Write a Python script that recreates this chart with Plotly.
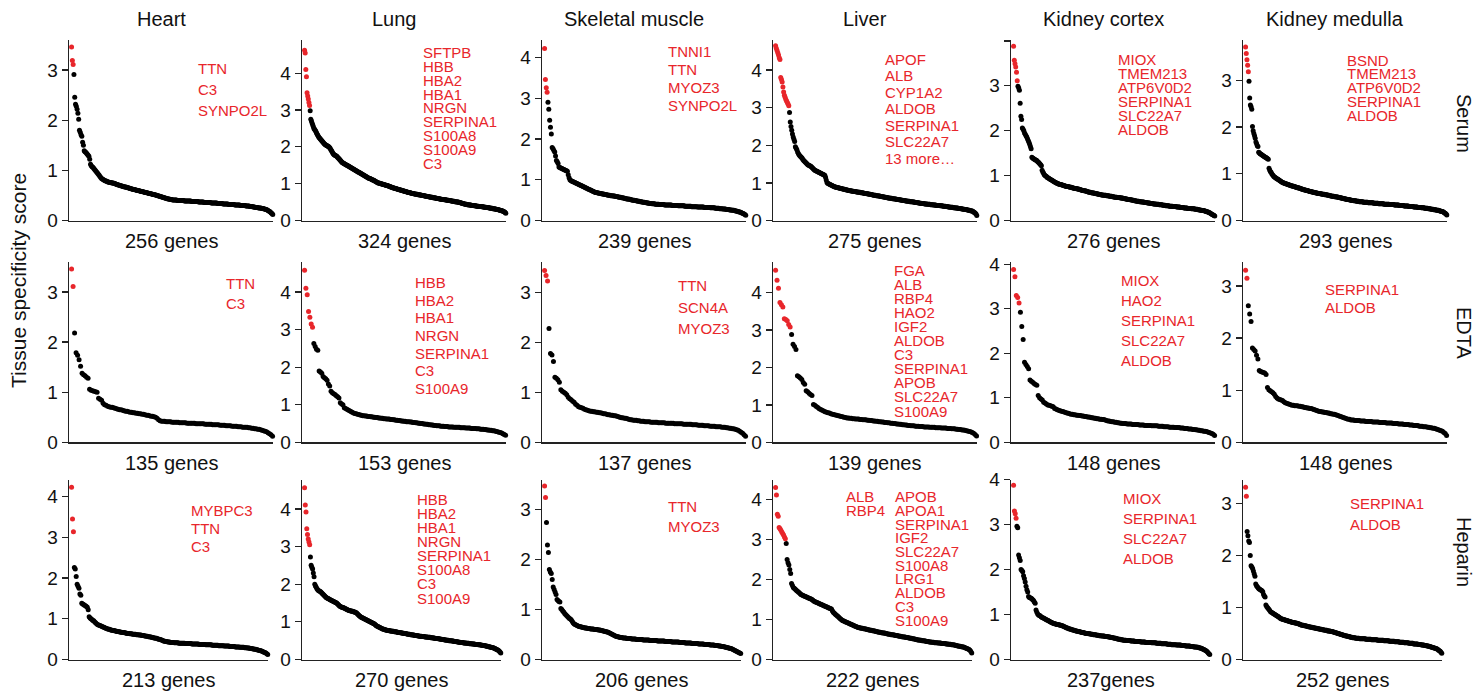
import plotly.graph_objects as go

W, H = 1478, 696

COLUMNS = ["Heart", "Lung", "Skeletal muscle", "Liver", "Kidney cortex", "Kidney medulla"]
ROWS = ["Serum", "EDTA", "Heparin"]
COUNT_TEXT = [
    ["256 genes", "324 genes", "239 genes", "275 genes", "276 genes", "293 genes"],
    ["135 genes", "153 genes", "137 genes", "139 genes", "148 genes", "148 genes"],
    ["213 genes", "270 genes", "206 genes", "222 genes", "237genes", "252 genes"],
]

# Tissue specificity scores (x100), genes ranked from highest to lowest
HEART_SERUM = [
    346, 319, 311, 291, 246, 232, 228, 222, 214, 202, 180, 176, 171, 168, 156, 150, 139, 137, 136, 134,
    132, 130, 128, 122, 112, 109, 107, 106, 104, 102, 100, 98, 96, 94, 92, 90, 88, 86, 84, 83,
    82, 81, 80, 79, 79, 78, 77, 77, 76, 76, 76, 75, 75, 75, 74, 74, 73, 72, 72, 71,
    71, 70, 70, 69, 69, 68, 68, 67, 67, 67, 66, 66, 65, 65, 64, 64, 63, 63, 62, 62,
    62, 61, 61, 60, 60, 60, 59, 59, 58, 58, 58, 57, 57, 56, 56, 56, 55, 55, 54, 54,
    54, 53, 53, 52, 52, 52, 51, 51, 50, 50, 49, 49, 48, 48, 47, 47, 46, 46, 45, 45,
    44, 44, 43, 43, 43, 42, 42, 42, 41, 41, 41, 41, 41, 41, 40, 40, 40, 40, 40, 40,
    40, 40, 40, 39, 39, 39, 39, 39, 39, 39, 39, 39, 38, 38, 38, 38, 38, 38, 38, 38,
    38, 37, 37, 37, 37, 37, 37, 37, 36, 36, 36, 36, 36, 36, 36, 36, 36, 35, 35, 35,
    35, 35, 35, 35, 35, 34, 34, 34, 34, 34, 34, 34, 33, 33, 33, 33, 33, 33, 33, 32,
    32, 32, 32, 32, 32, 32, 32, 31, 31, 31, 31, 31, 31, 31, 30, 30, 30, 30, 30, 30,
    30, 29, 29, 29, 29, 29, 28, 28, 28, 28, 27, 27, 27, 26, 26, 26, 26, 25, 25, 25,
    25, 24, 24, 24, 23, 23, 22, 22, 21, 20, 19, 18, 17, 15, 14, 12,
]
LUNG_SERUM = [
    462, 455, 410, 390, 347, 338, 330, 320, 312, 298, 275, 270, 265, 260, 255, 250, 248, 245, 242, 238,
    235, 232, 229, 226, 224, 222, 220, 218, 216, 214, 212, 210, 208, 206, 205, 204, 203, 202, 201, 200,
    198, 196, 193, 190, 187, 184, 181, 179, 178, 177, 176, 175, 174, 172, 170, 168, 166, 164, 162, 160,
    158, 157, 156, 155, 154, 153, 152, 151, 150, 149, 148, 147, 146, 145, 144, 143, 142, 141, 140, 139,
    138, 137, 136, 135, 134, 133, 132, 131, 130, 129, 128, 127, 126, 125, 124, 123, 122, 121, 120, 119,
    118, 117, 116, 115, 114, 114, 113, 112, 111, 110, 110, 109, 108, 107, 106, 105, 104, 103, 102, 102,
    101, 101, 100, 100, 99, 99, 98, 98, 97, 97, 96, 96, 95, 95, 94, 93, 93, 92, 91, 91,
    90, 89, 89, 88, 88, 87, 87, 86, 86, 85, 85, 84, 84, 83, 83, 82, 82, 81, 81, 80,
    80, 79, 79, 78, 78, 77, 77, 76, 76, 75, 75, 74, 74, 73, 73, 73, 72, 72, 72, 71,
    71, 71, 70, 70, 70, 69, 69, 69, 68, 68, 68, 67, 67, 67, 66, 66, 66, 65, 65, 65,
    64, 64, 64, 63, 63, 63, 62, 62, 62, 61, 61, 61, 60, 60, 60, 59, 59, 59, 58, 58,
    58, 57, 57, 57, 56, 56, 56, 56, 55, 55, 55, 55, 54, 54, 54, 53, 53, 53, 52, 52,
    52, 51, 51, 51, 50, 50, 50, 50, 49, 49, 48, 48, 47, 47, 46, 46, 45, 45, 44, 44,
    44, 43, 43, 43, 42, 42, 42, 42, 41, 41, 41, 41, 40, 40, 40, 40, 39, 39, 39, 39,
    38, 38, 38, 38, 37, 37, 37, 37, 36, 36, 36, 36, 35, 35, 35, 35, 34, 34, 34, 33,
    33, 33, 32, 32, 32, 31, 31, 31, 30, 30, 30, 29, 29, 28, 28, 27, 27, 26, 26, 25,
    24, 23, 22, 20,
]
SKELETAL_SERUM = [
    422, 346, 326, 315, 290, 273, 246, 229, 212, 179, 176, 172, 168, 158, 147, 144, 140, 131, 130, 129,
    128, 127, 126, 125, 124, 123, 122, 121, 112, 105, 100, 98, 97, 96, 95, 94, 93, 92, 91, 90,
    89, 88, 87, 86, 85, 84, 83, 82, 81, 80, 79, 78, 77, 76, 75, 74, 73, 72, 71, 70,
    69, 69, 68, 68, 67, 67, 66, 66, 65, 65, 65, 64, 64, 63, 63, 62, 62, 62, 61, 61,
    61, 60, 60, 60, 59, 59, 58, 58, 57, 57, 57, 56, 56, 55, 55, 54, 54, 53, 53, 53,
    52, 52, 51, 51, 50, 50, 50, 49, 49, 48, 48, 47, 47, 46, 46, 46, 45, 45, 45, 44,
    44, 43, 43, 43, 42, 42, 42, 41, 41, 41, 41, 40, 40, 40, 40, 40, 39, 39, 39, 39,
    39, 39, 38, 38, 38, 38, 38, 38, 38, 38, 38, 37, 37, 37, 37, 37, 37, 37, 36, 36,
    36, 36, 36, 36, 36, 36, 35, 35, 35, 35, 35, 35, 35, 35, 34, 34, 34, 34, 34, 34,
    34, 33, 33, 33, 33, 33, 33, 33, 33, 32, 32, 32, 32, 32, 32, 32, 31, 31, 31, 31,
    31, 31, 30, 30, 30, 30, 30, 29, 29, 29, 29, 28, 28, 28, 28, 27, 27, 27, 27, 26,
    26, 26, 25, 25, 25, 24, 24, 23, 23, 22, 21, 21, 20, 19, 18, 17, 16, 15, 13,
]
LIVER_SERUM = [
    465, 458, 452, 446, 440, 433, 428, 380, 375, 368, 355, 342, 333, 328, 322, 318, 314, 310, 305, 287,
    262, 250, 240, 230, 222, 216, 210, 196, 192, 188, 182, 178, 175, 172, 170, 168, 166, 163, 160, 158,
    156, 154, 152, 150, 148, 147, 146, 145, 144, 142, 140, 138, 136, 134, 133, 132, 131, 130, 129, 128,
    127, 126, 125, 124, 123, 122, 121, 120, 115, 108, 101, 99, 98, 97, 96, 95, 94, 93, 92, 91,
    90, 89, 89, 88, 88, 87, 87, 86, 86, 85, 85, 84, 84, 83, 83, 82, 82, 81, 81, 80,
    80, 79, 79, 79, 78, 78, 78, 77, 77, 77, 76, 76, 76, 75, 75, 75, 74, 74, 74, 73,
    73, 72, 72, 72, 71, 71, 71, 70, 70, 70, 69, 69, 68, 68, 67, 67, 67, 66, 66, 66,
    65, 65, 65, 64, 64, 63, 63, 63, 62, 62, 62, 61, 61, 60, 60, 60, 59, 59, 59, 58,
    58, 58, 57, 57, 57, 56, 56, 56, 55, 55, 55, 54, 54, 54, 53, 53, 53, 52, 52, 52,
    51, 51, 51, 50, 50, 50, 50, 49, 49, 49, 48, 48, 48, 47, 47, 47, 46, 46, 46, 45,
    45, 45, 45, 44, 44, 44, 44, 43, 43, 43, 43, 42, 42, 42, 42, 41, 41, 41, 41, 40,
    40, 40, 40, 40, 39, 39, 39, 39, 38, 38, 38, 38, 37, 37, 37, 36, 36, 36, 35, 35,
    35, 35, 34, 34, 34, 33, 33, 33, 33, 32, 32, 32, 31, 31, 31, 30, 30, 30, 29, 29,
    29, 28, 28, 27, 27, 26, 26, 25, 25, 24, 22, 21, 19, 17, 13,
]
KIDNEY_CORTEX_SERUM = [
    388, 357, 349, 342, 330, 311, 299, 295, 290, 261, 232, 225, 206, 203, 200, 195, 192, 189, 186, 182,
    178, 174, 170, 165, 160, 141, 139, 138, 137, 136, 135, 134, 133, 131, 130, 128, 126, 124, 122, 112,
    108, 105, 102, 100, 99, 98, 96, 95, 94, 93, 92, 91, 90, 89, 88, 87, 86, 85, 84, 83,
    83, 82, 81, 81, 80, 80, 79, 79, 78, 78, 77, 77, 76, 76, 76, 75, 75, 74, 74, 74,
    73, 73, 72, 72, 71, 71, 71, 70, 70, 70, 69, 69, 68, 68, 67, 67, 66, 66, 66, 65,
    65, 64, 64, 63, 63, 63, 62, 62, 61, 61, 61, 60, 60, 60, 59, 59, 59, 58, 58, 58,
    57, 57, 57, 56, 56, 56, 56, 55, 55, 55, 55, 54, 54, 54, 54, 53, 53, 53, 52, 52,
    52, 52, 51, 51, 51, 51, 50, 50, 50, 50, 49, 49, 49, 48, 48, 48, 47, 47, 47, 46,
    46, 46, 45, 45, 45, 44, 44, 44, 43, 43, 43, 43, 42, 42, 42, 41, 41, 41, 41, 40,
    40, 40, 40, 39, 39, 39, 39, 38, 38, 38, 38, 37, 37, 37, 37, 36, 36, 36, 36, 35,
    35, 35, 35, 35, 34, 34, 34, 34, 33, 33, 33, 33, 33, 32, 32, 32, 32, 32, 31, 31,
    31, 31, 31, 30, 30, 30, 30, 30, 29, 29, 29, 29, 29, 28, 28, 28, 28, 28, 27, 27,
    27, 27, 27, 26, 26, 26, 26, 26, 25, 25, 25, 25, 24, 24, 24, 23, 23, 23, 22, 22,
    22, 21, 21, 20, 20, 19, 19, 18, 17, 16, 15, 14, 13, 12, 11, 10,
]
KIDNEY_MEDULLA_SERUM = [
    371, 357, 344, 332, 318, 298, 262, 247, 243, 238, 201, 192, 186, 181, 176, 168, 164, 160, 158, 146,
    145, 143, 142, 141, 140, 139, 138, 137, 136, 135, 134, 133, 132, 131, 112, 108, 105, 103, 100, 98,
    96, 94, 93, 92, 91, 90, 89, 88, 87, 86, 85, 84, 83, 82, 81, 80, 80, 79, 79, 78,
    78, 77, 77, 76, 76, 75, 75, 74, 74, 73, 73, 72, 72, 71, 71, 70, 70, 70, 69, 69,
    68, 68, 67, 67, 66, 66, 65, 65, 64, 64, 64, 63, 63, 62, 62, 62, 61, 61, 61, 60,
    60, 60, 59, 59, 59, 58, 58, 58, 57, 57, 57, 56, 56, 56, 56, 55, 55, 55, 55, 54,
    54, 54, 53, 53, 53, 52, 52, 52, 52, 51, 51, 51, 50, 50, 50, 49, 49, 49, 48, 48,
    48, 47, 47, 47, 46, 46, 46, 45, 45, 45, 45, 44, 44, 44, 43, 43, 43, 42, 42, 42,
    42, 41, 41, 41, 41, 40, 40, 40, 40, 40, 40, 39, 39, 39, 39, 39, 39, 39, 38, 38,
    38, 38, 38, 38, 38, 38, 37, 37, 37, 37, 37, 37, 37, 36, 36, 36, 36, 36, 36, 36,
    36, 35, 35, 35, 35, 35, 35, 35, 35, 34, 34, 34, 34, 34, 34, 34, 33, 33, 33, 33,
    33, 33, 33, 32, 32, 32, 32, 32, 32, 32, 31, 31, 31, 31, 31, 31, 31, 30, 30, 30,
    30, 30, 30, 30, 29, 29, 29, 29, 29, 29, 28, 28, 28, 28, 28, 27, 27, 27, 27, 27,
    26, 26, 26, 26, 26, 25, 25, 25, 25, 24, 24, 24, 24, 23, 23, 23, 23, 22, 22, 22,
    22, 21, 21, 20, 20, 19, 19, 18, 17, 16, 15, 14, 12,
]
HEART_EDTA = [
    346, 311, 218, 179, 174, 165, 152, 138, 135, 133, 130, 128, 106, 104, 103, 102, 101, 100, 88, 86,
    84, 78, 75, 74, 72, 71, 70, 70, 69, 68, 67, 66, 65, 65, 64, 63, 62, 62, 61, 60,
    60, 59, 59, 58, 58, 57, 57, 56, 56, 55, 54, 54, 53, 52, 52, 51, 50, 48, 45, 43,
    42, 42, 42, 41, 41, 41, 41, 40, 40, 40, 40, 40, 39, 39, 39, 39, 39, 38, 38, 38,
    38, 38, 38, 37, 37, 37, 37, 37, 37, 36, 36, 36, 36, 36, 35, 35, 35, 35, 35, 34,
    34, 34, 34, 33, 33, 33, 33, 32, 32, 32, 32, 31, 31, 31, 30, 30, 30, 30, 29, 29,
    28, 28, 27, 27, 26, 26, 25, 24, 23, 22, 21, 19, 17, 15, 12,
]
LUNG_EDTA = [
    458, 410, 393, 348, 333, 315, 306, 263, 255, 248, 245, 190, 187, 184, 175, 172, 169, 165, 155, 150,
    136, 132, 129, 127, 124, 121, 118, 105, 102, 100, 92, 90, 88, 86, 84, 82, 80, 78, 77, 76,
    75, 74, 73, 72, 71, 71, 70, 70, 69, 69, 68, 68, 67, 67, 66, 66, 65, 65, 64, 64,
    63, 63, 62, 62, 62, 61, 61, 60, 60, 59, 59, 58, 58, 57, 57, 56, 56, 55, 55, 55,
    54, 54, 53, 53, 52, 52, 51, 51, 50, 50, 49, 49, 48, 48, 47, 47, 46, 46, 45, 45,
    44, 44, 44, 43, 43, 43, 42, 42, 42, 41, 41, 41, 41, 40, 40, 40, 40, 40, 39, 39,
    39, 39, 38, 38, 38, 38, 37, 37, 37, 37, 36, 36, 36, 35, 35, 35, 34, 34, 33, 33,
    32, 32, 31, 31, 30, 29, 28, 27, 26, 25, 23, 21, 19,
]
SKELETAL_EDTA = [
    344, 334, 323, 228, 178, 175, 162, 130, 128, 125, 120, 105, 102, 100, 98, 95, 90, 87, 85, 82,
    80, 76, 74, 71, 70, 69, 68, 66, 65, 64, 63, 62, 62, 61, 61, 60, 60, 59, 59, 58,
    57, 57, 56, 55, 55, 54, 54, 53, 53, 52, 51, 50, 49, 49, 48, 48, 47, 46, 45, 45,
    44, 44, 44, 43, 43, 42, 42, 42, 41, 41, 41, 41, 40, 40, 40, 40, 40, 39, 39, 39,
    39, 39, 38, 38, 38, 38, 38, 38, 37, 37, 37, 37, 37, 37, 36, 36, 36, 36, 36, 36,
    35, 35, 35, 35, 34, 34, 34, 34, 33, 33, 33, 33, 32, 32, 32, 32, 31, 31, 31, 31,
    30, 30, 30, 29, 29, 28, 28, 27, 27, 26, 25, 24, 22, 20, 18, 15, 12,
]
LIVER_EDTA = [
    460, 433, 412, 374, 368, 362, 330, 328, 325, 315, 308, 288, 262, 256, 248, 178, 175, 172, 168, 160,
    155, 138, 135, 131, 128, 125, 101, 99, 96, 93, 90, 88, 86, 84, 82, 80, 79, 78, 76, 75,
    74, 73, 72, 71, 70, 69, 68, 67, 66, 65, 65, 64, 64, 63, 63, 62, 62, 62, 61, 61,
    60, 60, 60, 59, 59, 58, 58, 57, 57, 56, 56, 55, 55, 54, 54, 53, 53, 52, 52, 51,
    51, 50, 50, 49, 49, 48, 48, 47, 47, 46, 46, 45, 45, 44, 44, 44, 43, 43, 43, 42,
    42, 42, 41, 41, 41, 41, 40, 40, 40, 40, 39, 39, 39, 39, 38, 38, 38, 38, 37, 37,
    37, 36, 36, 36, 35, 35, 34, 34, 33, 33, 32, 31, 30, 29, 28, 26, 24, 21, 17,
]
KIDNEY_CORTEX_EDTA = [
    388, 372, 330, 325, 313, 292, 260, 231, 180, 175, 170, 165, 140, 137, 135, 132, 130, 128, 105, 100,
    97, 95, 90, 88, 86, 84, 83, 82, 81, 80, 76, 75, 73, 72, 71, 70, 69, 68, 67, 66,
    65, 64, 63, 63, 62, 62, 61, 61, 60, 60, 59, 59, 58, 58, 57, 57, 56, 55, 55, 54,
    54, 53, 53, 52, 52, 51, 51, 50, 49, 48, 48, 47, 46, 46, 45, 45, 44, 44, 43, 43,
    42, 42, 42, 41, 41, 41, 41, 40, 40, 40, 40, 40, 39, 39, 39, 39, 38, 38, 38, 38,
    38, 37, 37, 37, 37, 37, 36, 36, 36, 36, 35, 35, 35, 35, 34, 34, 34, 34, 33, 33,
    33, 33, 32, 32, 32, 31, 31, 31, 30, 30, 30, 29, 29, 28, 28, 27, 27, 26, 26, 25,
    25, 24, 23, 22, 21, 20, 18, 15,
]
KIDNEY_MEDULLA_EDTA = [
    330, 315, 262, 246, 232, 181, 178, 175, 167, 160, 138, 136, 135, 134, 133, 130, 105, 101, 99, 97,
    95, 92, 88, 85, 83, 82, 81, 80, 78, 76, 75, 74, 73, 72, 71, 71, 70, 70, 70, 69,
    69, 68, 68, 67, 67, 66, 66, 65, 65, 64, 63, 62, 61, 60, 59, 59, 58, 58, 57, 57,
    56, 56, 55, 55, 54, 54, 53, 52, 51, 50, 49, 48, 47, 46, 45, 44, 44, 43, 43, 43,
    42, 42, 42, 42, 41, 41, 41, 41, 40, 40, 40, 40, 40, 39, 39, 39, 39, 39, 38, 38,
    38, 38, 38, 37, 37, 37, 37, 37, 36, 36, 36, 36, 35, 35, 35, 35, 34, 34, 34, 34,
    33, 33, 33, 32, 32, 32, 32, 31, 31, 31, 30, 30, 30, 29, 29, 28, 28, 27, 27, 26,
    25, 24, 23, 22, 21, 19, 17, 13,
]
HEART_HEPARIN = [
    423, 345, 314, 226, 222, 204, 185, 180, 175, 161, 158, 138, 136, 135, 133, 132, 130, 128, 122, 105,
    102, 100, 98, 96, 95, 92, 90, 88, 86, 85, 84, 83, 82, 81, 80, 79, 78, 77, 76, 75,
    74, 74, 73, 72, 72, 71, 71, 70, 70, 69, 69, 68, 68, 67, 67, 66, 66, 66, 65, 65,
    64, 64, 64, 63, 63, 63, 62, 62, 62, 62, 61, 61, 61, 60, 60, 60, 59, 59, 59, 58,
    58, 57, 57, 56, 56, 55, 55, 54, 54, 53, 53, 52, 52, 51, 50, 50, 49, 48, 47, 46,
    45, 45, 44, 44, 43, 43, 43, 42, 42, 42, 42, 41, 41, 41, 41, 41, 40, 40, 40, 40,
    40, 40, 40, 39, 39, 39, 39, 39, 39, 39, 38, 38, 38, 38, 38, 38, 38, 38, 37, 37,
    37, 37, 37, 37, 37, 36, 36, 36, 36, 36, 36, 36, 35, 35, 35, 35, 35, 35, 35, 34,
    34, 34, 34, 34, 34, 33, 33, 33, 33, 33, 33, 32, 32, 32, 32, 32, 32, 31, 31, 31,
    31, 31, 30, 30, 30, 30, 30, 29, 29, 29, 28, 28, 28, 27, 27, 27, 26, 26, 25, 25,
    24, 24, 23, 22, 22, 21, 20, 19, 18, 17, 16, 14, 12,
]
LUNG_HEPARIN = [
    456, 410, 392, 347, 332, 320, 312, 305, 272, 250, 245, 240, 230, 220, 200, 195, 192, 188, 185, 183,
    182, 181, 180, 178, 176, 174, 172, 170, 168, 166, 164, 163, 162, 161, 160, 159, 158, 157, 156, 155,
    154, 153, 152, 151, 150, 148, 146, 144, 142, 141, 140, 139, 138, 138, 137, 136, 135, 134, 133, 132,
    131, 130, 130, 129, 129, 128, 128, 127, 126, 126, 125, 124, 122, 120, 118, 116, 115, 113, 112, 111,
    110, 109, 108, 107, 106, 105, 104, 103, 102, 101, 100, 99, 98, 97, 96, 95, 94, 92, 90, 89,
    88, 87, 86, 85, 84, 83, 82, 81, 80, 80, 79, 79, 78, 78, 77, 77, 77, 76, 76, 76,
    75, 75, 75, 74, 74, 74, 73, 73, 72, 72, 72, 71, 71, 71, 70, 70, 70, 69, 69, 69,
    68, 68, 67, 67, 67, 66, 66, 66, 65, 65, 65, 64, 64, 64, 63, 63, 63, 62, 62, 62,
    62, 61, 61, 61, 61, 60, 60, 60, 60, 59, 59, 59, 59, 58, 58, 58, 57, 57, 57, 56,
    56, 56, 56, 55, 55, 55, 54, 54, 54, 53, 53, 53, 52, 52, 52, 51, 51, 51, 50, 50,
    50, 50, 49, 49, 49, 48, 48, 48, 47, 47, 47, 46, 46, 46, 45, 45, 45, 45, 44, 44,
    44, 44, 43, 43, 43, 43, 42, 42, 42, 42, 41, 41, 41, 41, 40, 40, 40, 40, 39, 39,
    39, 39, 38, 38, 38, 37, 37, 37, 36, 36, 35, 35, 34, 34, 33, 33, 32, 32, 31, 31,
    30, 29, 28, 27, 26, 25, 24, 22, 20, 17,
]
SKELETAL_HEPARIN = [
    347, 324, 274, 229, 214, 180, 175, 172, 160, 145, 140, 135, 130, 120, 118, 116, 115, 102, 100, 97,
    95, 92, 90, 88, 86, 84, 82, 81, 79, 76, 73, 71, 70, 69, 68, 67, 66, 66, 65, 65,
    64, 64, 63, 63, 63, 62, 62, 62, 61, 61, 61, 61, 60, 60, 60, 60, 59, 59, 59, 58,
    58, 57, 57, 56, 56, 55, 55, 54, 53, 52, 51, 50, 49, 48, 47, 46, 46, 45, 45, 44,
    44, 44, 43, 43, 43, 43, 42, 42, 42, 42, 42, 41, 41, 41, 41, 41, 40, 40, 40, 40,
    40, 40, 40, 39, 39, 39, 39, 39, 39, 39, 38, 38, 38, 38, 38, 38, 38, 38, 37, 37,
    37, 37, 37, 37, 37, 37, 36, 36, 36, 36, 36, 36, 36, 35, 35, 35, 35, 35, 35, 35,
    35, 34, 34, 34, 34, 34, 34, 33, 33, 33, 33, 33, 33, 33, 32, 32, 32, 32, 32, 32,
    32, 31, 31, 31, 31, 31, 31, 30, 30, 30, 30, 30, 30, 29, 29, 29, 29, 29, 28, 28,
    28, 28, 27, 27, 27, 26, 26, 26, 25, 25, 24, 24, 23, 23, 22, 22, 21, 20, 19, 18,
    17, 16, 15, 14, 13, 12,
]
LIVER_HEPARIN = [
    430, 411, 363, 358, 330, 327, 323, 319, 315, 311, 306, 302, 290, 250, 242, 236, 225, 215, 190, 185,
    180, 178, 176, 174, 172, 170, 168, 166, 164, 162, 161, 160, 159, 158, 157, 156, 155, 154, 153, 152,
    151, 150, 148, 146, 145, 144, 143, 142, 141, 140, 139, 138, 137, 136, 135, 134, 133, 132, 131, 130,
    129, 128, 127, 126, 122, 118, 116, 114, 112, 110, 108, 106, 104, 102, 100, 98, 97, 96, 95, 94,
    93, 92, 91, 90, 89, 88, 87, 86, 85, 84, 83, 82, 81, 80, 80, 79, 79, 78, 78, 77,
    77, 76, 76, 75, 75, 74, 74, 73, 73, 72, 72, 71, 71, 70, 70, 69, 69, 68, 68, 67,
    67, 66, 66, 66, 65, 65, 64, 64, 63, 63, 62, 62, 62, 61, 61, 60, 60, 60, 59, 59,
    58, 58, 57, 57, 56, 56, 56, 55, 55, 55, 54, 54, 53, 53, 52, 52, 51, 51, 50, 50,
    49, 49, 49, 48, 48, 47, 47, 47, 46, 46, 45, 45, 45, 44, 44, 44, 43, 43, 43, 42,
    42, 42, 42, 41, 41, 41, 41, 40, 40, 40, 40, 40, 39, 39, 39, 38, 38, 38, 37, 37,
    37, 36, 36, 35, 35, 34, 34, 33, 33, 32, 32, 31, 31, 30, 29, 28, 27, 26, 25, 23,
    20, 16,
]
KIDNEY_CORTEX_HEPARIN = [
    387, 330, 324, 314, 296, 293, 232, 226, 220, 200, 198, 195, 186, 180, 172, 163, 155, 150, 140, 138,
    137, 136, 135, 133, 131, 128, 125, 110, 105, 101, 99, 98, 97, 95, 94, 93, 92, 91, 90, 89,
    88, 87, 86, 85, 84, 83, 82, 81, 80, 80, 79, 79, 78, 78, 77, 77, 76, 76, 75, 75,
    74, 73, 72, 71, 70, 70, 69, 68, 68, 67, 66, 66, 65, 65, 64, 64, 63, 63, 62, 62,
    61, 61, 60, 60, 60, 59, 59, 58, 58, 58, 57, 57, 57, 56, 56, 56, 55, 55, 55, 55,
    54, 54, 54, 53, 53, 53, 52, 52, 52, 52, 51, 51, 51, 51, 50, 50, 50, 49, 49, 49,
    48, 48, 47, 47, 46, 46, 45, 45, 45, 44, 44, 44, 43, 43, 43, 43, 42, 42, 42, 42,
    42, 41, 41, 41, 41, 41, 40, 40, 40, 40, 40, 40, 40, 39, 39, 39, 39, 39, 39, 38,
    38, 38, 38, 38, 38, 38, 37, 37, 37, 37, 37, 37, 36, 36, 36, 36, 36, 36, 35, 35,
    35, 35, 35, 35, 35, 34, 34, 34, 34, 34, 33, 33, 33, 33, 33, 33, 32, 32, 32, 32,
    32, 32, 31, 31, 31, 31, 31, 30, 30, 30, 30, 30, 30, 29, 29, 29, 29, 28, 28, 28,
    28, 27, 27, 26, 26, 25, 25, 24, 23, 22, 21, 20, 19, 17, 15, 13, 11,
]
KIDNEY_MEDULLA_HEPARIN = [
    331, 314, 246, 238, 228, 225, 200, 180, 178, 175, 170, 165, 160, 145, 142, 140, 138, 136, 135, 134,
    133, 132, 130, 125, 122, 120, 105, 102, 100, 98, 96, 94, 92, 91, 90, 89, 88, 87, 86, 85,
    84, 83, 82, 81, 80, 79, 78, 78, 77, 77, 76, 76, 75, 75, 74, 74, 73, 73, 72, 72,
    71, 71, 71, 70, 70, 70, 69, 69, 68, 68, 67, 67, 66, 66, 66, 65, 65, 65, 64, 64,
    63, 63, 63, 62, 62, 62, 61, 61, 61, 60, 60, 60, 59, 59, 59, 58, 58, 58, 57, 57,
    57, 56, 56, 56, 56, 55, 55, 55, 55, 54, 54, 54, 53, 53, 52, 52, 51, 51, 50, 50,
    49, 49, 48, 48, 47, 47, 46, 46, 45, 45, 45, 44, 44, 44, 43, 43, 43, 42, 42, 42,
    42, 41, 41, 41, 41, 41, 40, 40, 40, 40, 40, 40, 40, 40, 39, 39, 39, 39, 39, 39,
    39, 38, 38, 38, 38, 38, 38, 38, 38, 37, 37, 37, 37, 37, 37, 37, 37, 36, 36, 36,
    36, 36, 36, 36, 35, 35, 35, 35, 35, 35, 35, 34, 34, 34, 34, 34, 34, 33, 33, 33,
    33, 33, 33, 32, 32, 32, 32, 32, 32, 31, 31, 31, 31, 31, 31, 30, 30, 30, 30, 30,
    30, 29, 29, 29, 29, 28, 28, 28, 28, 27, 27, 27, 26, 26, 26, 25, 25, 24, 24, 23,
    23, 22, 22, 21, 21, 20, 19, 18, 17, 16, 14, 12,
]

SCORES = [
    [HEART_SERUM, LUNG_SERUM, SKELETAL_SERUM, LIVER_SERUM, KIDNEY_CORTEX_SERUM, KIDNEY_MEDULLA_SERUM],
    [HEART_EDTA, LUNG_EDTA, SKELETAL_EDTA, LIVER_EDTA, KIDNEY_CORTEX_EDTA, KIDNEY_MEDULLA_EDTA],
    [HEART_HEPARIN, LUNG_HEPARIN, SKELETAL_HEPARIN, LIVER_HEPARIN, KIDNEY_CORTEX_HEPARIN, KIDNEY_MEDULLA_HEPARIN],
]

# number of top-ranked (highlighted) genes per panel
N_HIGHLIGHT = [
    [3, 9, 4, 19, 6, 5],
    [2, 7, 3, 11, 5, 2],
    [3, 8, 2, 12, 4, 2],
]

GENES = [
    [["TTN", "C3", "SYNPO2L"],
     ["SFTPB", "HBB", "HBA2", "HBA1", "NRGN", "SERPINA1", "S100A8", "S100A9", "C3"],
     ["TNNI1", "TTN", "MYOZ3", "SYNPO2L"],
     ["APOF", "ALB", "CYP1A2", "ALDOB", "SERPINA1", "SLC22A7", "13 more…"],
     ["MIOX", "TMEM213", "ATP6V0D2", "SERPINA1", "SLC22A7", "ALDOB"],
     ["BSND", "TMEM213", "ATP6V0D2", "SERPINA1", "ALDOB"]],
    [["TTN", "C3"],
     ["HBB", "HBA2", "HBA1", "NRGN", "SERPINA1", "C3", "S100A9"],
     ["TTN", "SCN4A", "MYOZ3"],
     ["FGA", "ALB", "RBP4", "HAO2", "IGF2", "ALDOB", "C3", "SERPINA1", "APOB", "SLC22A7", "S100A9"],
     ["MIOX", "HAO2", "SERPINA1", "SLC22A7", "ALDOB"],
     ["SERPINA1", "ALDOB"]],
    [["MYBPC3", "TTN", "C3"],
     ["HBB", "HBA2", "HBA1", "NRGN", "SERPINA1", "S100A8", "C3", "S100A9"],
     ["TTN", "MYOZ3"],
     ["APOB", "APOA1", "SERPINA1", "IGF2", "SLC22A7", "S100A8", "LRG1", "ALDOB", "C3", "S100A9"],
     ["MIOX", "SERPINA1", "SLC22A7", "ALDOB"],
     ["SERPINA1", "ALDOB"]],
]
LIVER_HEPARIN_EXTRA = ["ALB", "RBP4"]

# ---------------- layout (pixels) ----------------
COL_LEFT = [69, 302, 542, 773, 1011, 1243]
PANEL_W = [204, 204, 199]
ROW_TOP = [40, 262, 479.5]
ROW_BOTTOM = [220.5, 442.3, 659.5]
Y_TOP = [
    [3.6, 4.9, 4.43, 4.8, 4.02, 3.86],
    [3.6, 4.8, 3.61, 4.82, 4.05, 3.46],
    [4.42, 4.78, 3.6, 4.5, 4.0, 3.46],
]
HIDE_TOP_LABEL = {(0, 4)}
# gene label block: left x, first line centre y, line step (px)
LABEL_POS = [
    [(196, 68.3, 21), (420.7, 52.7, 13.8), (666, 51.7, 17.8), (883.3, 59.3, 16.5), (1115.7, 59.3, 14.1), (1345, 60, 13.8)],
    [(224, 283.3, 20), (413.3, 282.7, 17.6), (676, 285, 22), (891.7, 270, 14.1), (1119.3, 280, 20.2), (1322.7, 289.3, 18)],
    [(188.7, 510.7, 17.7), (415, 499.3, 14.1), (666, 506, 20.7), (892.7, 496.7, 13.7), (1120.7, 498.3, 20), (1347.7, 503.3, 20.7)],
]
LIVER_HEPARIN_EXTRA_POS = (844, 496.7, 14)

RED = "#E8262B"
BLACK = "#000000"
AXIS = "#222222"
FONT = "Liberation Sans, Arial, Helvetica, sans-serif"

fig = go.Figure()
layout = {}
ann = []


def px(x):
    return x / W


def py(y):
    return 1 - y / H


for r in range(3):
    for c in range(6):
        k = r * 6 + c + 1
        sfx = "" if k == 1 else str(k)
        vals = [v / 100 for v in SCORES[r][c]]
        n = len(vals)
        ranks = list(range(1, n + 1))
        nh = N_HIGHLIGHT[r][c]
        fig.add_trace(go.Scatter(
            x=ranks[nh:], y=vals[nh:], mode="markers",
            marker=dict(color=BLACK, size=5, line=dict(width=0)),
            xaxis="x" + sfx, yaxis="y" + sfx, showlegend=False,
            hoverinfo="skip", cliponaxis=False))
        fig.add_trace(go.Scatter(
            x=ranks[:nh], y=vals[:nh], mode="markers",
            marker=dict(color=RED, size=5, line=dict(width=0)),
            xaxis="x" + sfx, yaxis="y" + sfx, showlegend=False,
            hoverinfo="skip", cliponaxis=False))

        left = COL_LEFT[c]
        right = left + PANEL_W[r]
        top, bottom = ROW_TOP[r], ROW_BOTTOM[r]
        ppr = (right - left) / n
        layout["xaxis" + sfx] = dict(
            domain=[px(left), px(right)], anchor="y" + sfx,
            range=[1 - 2.6 / ppr, n + 0.3], automargin=False,
            showline=True, linecolor=AXIS, linewidth=1.3,
            showticklabels=False, ticks="", showgrid=False, zeroline=False,
            fixedrange=True)
        ytop = Y_TOP[r][c]
        tv = [t for t in range(0, 5) if t <= ytop + 1e-9]
        tt = [str(t) for t in tv]
        if (r, c) in HIDE_TOP_LABEL:
            tt[-1] = ""
        layout["yaxis" + sfx] = dict(
            domain=[py(bottom), py(top)], anchor="x" + sfx, automargin=False,
            range=[0, ytop], tickvals=tv, ticktext=tt,
            ticks="outside", ticklen=6, tickwidth=1.3, tickcolor=AXIS,
            showline=True, linecolor=AXIS, linewidth=1.3,
            showgrid=False, zeroline=False, fixedrange=True,
            tickfont=dict(size=19, color="#111", family=FONT))

        # gene count label under panel
        ann.append(dict(x=px((left + right) / 2), y=py(bottom + 20.5), xref="paper", yref="paper",
                        text=COUNT_TEXT[r][c], showarrow=False, xanchor="center", yanchor="middle",
                        font=dict(size=20, color="#111", family=FONT)))
        # gene labels
        lx, ly, st = LABEL_POS[r][c]
        for i, g in enumerate(GENES[r][c]):
            ann.append(dict(x=px(lx), y=py(ly + i * st), xref="paper", yref="paper",
                            text=g, showarrow=False, xanchor="left", yanchor="middle",
                            font=dict(size=15, color=RED, family=FONT)))

lx, ly, st = LIVER_HEPARIN_EXTRA_POS
for i, g in enumerate(LIVER_HEPARIN_EXTRA):
    ann.append(dict(x=px(lx), y=py(ly + i * st), xref="paper", yref="paper",
                    text=g, showarrow=False, xanchor="left", yanchor="middle",
                    font=dict(size=15, color=RED, family=FONT)))

# column titles
for c, name in enumerate(COLUMNS):
    ann.append(dict(x=px(COL_LEFT[c] + 92), y=py(19), xref="paper", yref="paper",
                    text=name, showarrow=False, xanchor="center", yanchor="middle",
                    font=dict(size=20, color="#111", family=FONT)))

# row titles
ROW_LABEL_Y = [123, 333, 552]
for r, name in enumerate(ROWS):
    ann.append(dict(x=px(1464), y=py(ROW_LABEL_Y[r]), xref="paper", yref="paper",
                    text=name, showarrow=False, xanchor="center", yanchor="middle",
                    textangle=90, font=dict(size=20, color="#111", family=FONT)))

# y axis title
ann.append(dict(x=px(18), y=py(281), xref="paper", yref="paper",
                text="Tissue specificity score", showarrow=False,
                xanchor="center", yanchor="middle", textangle=-90,
                font=dict(size=21, color="#111", family=FONT)))

fig.update_layout(
    width=W, height=H, autosize=False,
    margin=dict(l=0, r=0, t=0, b=0, pad=0, autoexpand=False),
    paper_bgcolor="white", plot_bgcolor="white",
    font=dict(family=FONT, color="#111"),
    annotations=ann, showlegend=False,
    **layout,
)

fig.write_html(
    "out.html",
    config={"displayModeBar": False, "staticPlot": True},
    post_script="document.body.style.margin='0';document.body.style.padding='0';"
                "document.body.style.overflow='hidden';",
)
